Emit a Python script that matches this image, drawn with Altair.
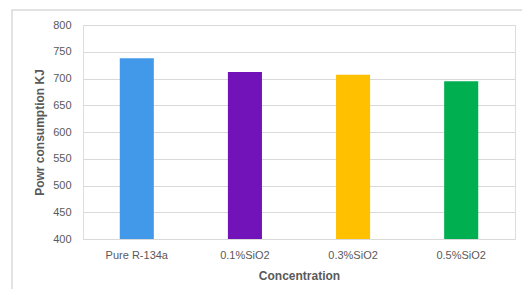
import altair as alt
import pandas as pd

categories = ["Pure R-134a", "0.1%SiO2", "0.3%SiO2", "0.5%SiO2"]
values = [738, 712, 707, 695]
colors = ["#4399E9", "#7213BA", "#FFC000", "#00B050"]

df = pd.DataFrame({"cat": categories, "val": values, "color": colors})

font = "Liberation Sans"
gray = "#595959"

bars = alt.Chart(df).mark_bar().encode(
    x=alt.X("cat:N", sort=categories, title="Concentration",
            scale=alt.Scale(paddingInner=0.685, paddingOuter=0.34),
            axis=alt.Axis(labelAngle=0, ticks=False, labelPadding=10,
                          domainColor="#d9d9d9", labelFont=font, labelFontSize=11,
                          labelColor=gray, titleFont=font, titleFontSize=12,
                          titleColor=gray, titleFontWeight="bold", titleY=36,
                          titleBaseline="middle", grid=False)),
    y=alt.Y("val:Q", title="Powr consumption KJ",
            scale=alt.Scale(domain=[400, 800], zero=False, nice=False),
            axis=alt.Axis(values=list(range(400, 801, 50)), ticks=False, domain=False,
                          labelPadding=12, gridColor="#d9d9d9", labelFont=font,
                          labelFontSize=11, labelColor=gray, titleFont=font,
                          titleFontSize=12, titleColor=gray, titleFontWeight="bold",
                          titleX=-44, titleY=107, titleAngle=-90, titleAlign="center",
                          titleBaseline="middle")),
    y2=alt.datum(400),
    color=alt.Color("color:N", scale=None),
)

frame = alt.Chart(df).mark_rect(filled=False, stroke="#d9d9d9", strokeWidth=1.5, clip=False).encode(
    x=alt.value(-71), x2=alt.value(700), y=alt.value(-15), y2=alt.value(400)
).transform_filter(alt.datum.cat == "Pure R-134a")

chart = alt.layer(frame, bars).properties(
    width=432, height=214,
    autosize=alt.AutoSizeParams(type="none"),
    padding={"left": 75, "top": 17, "right": 7, "bottom": 50},
).configure_view(stroke=None).configure(background="white")

chart.save("out.html", embed_options={"renderer": "svg", "actions": False})
